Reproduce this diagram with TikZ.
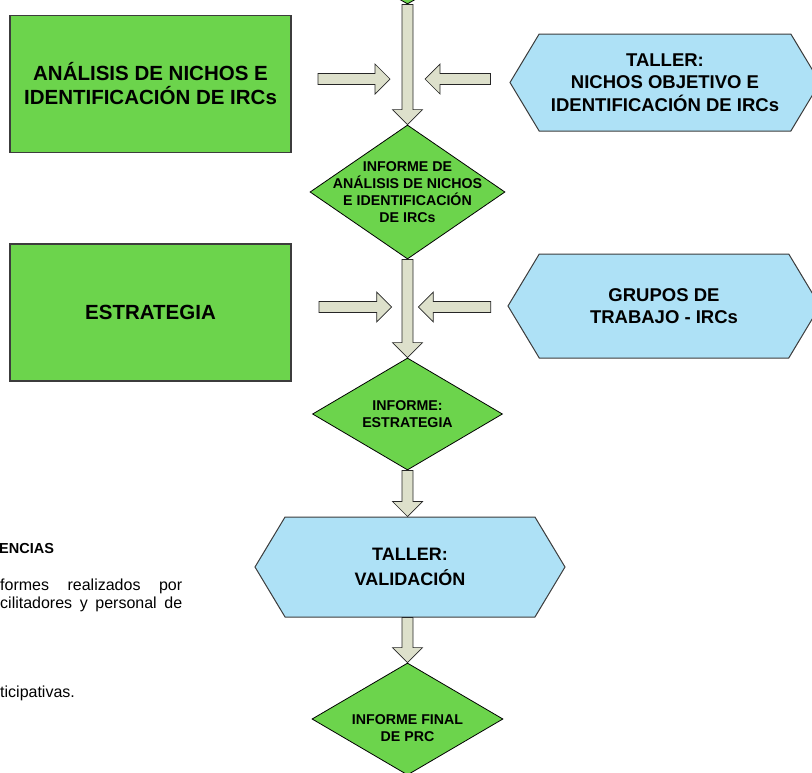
\documentclass[tikz,border=0pt]{standalone}
\usepackage{fontspec}
\setmainfont{Liberation Sans}
\usepackage{tikz}
\usetikzlibrary{calc, shapes.geometric, shapes.symbols}
\definecolor{boxgreen}{HTML}{6CD44C}
\definecolor{tallerblue}{HTML}{AEE1F6}
\definecolor{arrowfill}{HTML}{DDE0CB}
\definecolor{edgegray}{HTML}{3C3C3C}

\begin{document}
\begin{tikzpicture}[x=1pt, y=-1pt,
            actividad/.style={rectangle, draw=edgegray, line width=1.2pt, fill=boxgreen,
                minimum width=281pt, minimum height=137pt, align=center,
                font=\fontsize{20.5}{24}\selectfont\bfseries},
            informe/.style={diamond, draw=black, line width=0.8pt, fill=boxgreen,
                inner sep=-30pt, align=center, font=\fontsize{14.2}{16.8}\selectfont\bfseries},
            taller/.style={signal, signal to=west and east, signal pointer angle=118,
                draw=edgegray, line width=1pt, fill=tallerblue, minimum width=310pt,
                minimum height=100pt, inner sep=4pt, align=center,
                font=\fontsize{18.5}{22.5}\selectfont\bfseries},
            nota/.style={anchor=base west, inner sep=0pt, font=\fontsize{16}{18}\selectfont},
            flecha/.style={draw=black!85, line width=0.7pt, fill=arrowfill, line join=miter,
                to path={
                    ($(\tikztostart)!5.5pt!90:(\tikztotarget)$)
                    -- ($(\tikztotarget)!15pt!(\tikztostart)!5.5pt!-90:(\tikztostart)$)
                    -- ($(\tikztotarget)!15pt!(\tikztostart)!15pt!-90:(\tikztostart)$)
                    -- (\tikztotarget)
                    -- ($(\tikztotarget)!15pt!(\tikztostart)!15pt!90:(\tikztostart)$)
                    -- ($(\tikztotarget)!15pt!(\tikztostart)!5.5pt!90:(\tikztostart)$)
                    -- ($(\tikztostart)!5.5pt!-90:(\tikztotarget)$) -- cycle}}]
            \useasboundingbox (0,0) rectangle (812,772);
            \clip (0,0) rectangle (812,772);
            % main column
            \node[informe, minimum width=190pt, minimum height=108pt] (d0) at (407.5,-50) {};
            \node[informe, minimum width=195pt, minimum height=134pt] (d1) at (407.5,192)
                {INFORME DE\\ANÁLISIS DE NICHOS\\E IDENTIFICACIÓN\\DE IRCs};
            \node[informe, minimum width=190pt, minimum height=112pt] (d2) at (407.5,414)
                {INFORME:\\ESTRATEGIA};
            \node[taller, font=\fontsize{18}{24.5}\selectfont\bfseries] (hx3) at (410,567)
                {TALLER:\\VALIDACIÓN};
            \node[informe, minimum width=191pt, minimum height=112pt] (d3) at (407.5,719)
                {\vphantom{X}\\[1.2pt]INFORME FINAL\\DE PRC};
            % side boxes
            \node[actividad] (r1) at (150.5,84) {ANÁLISIS DE NICHOS E\\IDENTIFICACIÓN DE IRCs};
            \node[actividad] (r2) at (150.5,312.5) {ESTRATEGIA};
            \node[taller, minimum height=97pt] (hx1) at (665,82.5)
                {TALLER:\\NICHOS OBJETIVO E\\IDENTIFICACIÓN DE IRCs};
            \node[taller, minimum width=312pt, minimum height=104pt] (hx2) at (664,306)
                {GRUPOS DE\\TRABAJO - IRCs};
            % text cut at the left margin
            \node[nota, font=\fontsize{14.5}{17}\selectfont\bfseries] (ref0) at (-1,553) {ENCIAS};
            \node[nota] (ref1) at (0,590) {\makebox[182pt][s]{formes realizados por}};
            \node[nota] (ref2) at (0,608) {\makebox[182pt][s]{cilitadores y personal de}};
            \node[nota] (ref3) at (0,697) {ticipativas.};
            % arrows
            \coordinate (s1) at (318,79);
            \coordinate (t1) at (390,79);
            \coordinate (s2) at (490.5,79);
            \coordinate (t2) at (425,79);
            \coordinate (s3) at (319,307);
            \coordinate (t3) at (391.7,307);
            \coordinate (s4) at (490.7,307);
            \coordinate (t4) at (418.3,307);
            \coordinate (h3n) at (d2.south |- hx3.north);
            \coordinate (h3s) at (d3.north |- hx3.south);
            \foreach \a/\b in {d0.south/d1.north, d1.south/d2.north, d2.south/h3n, h3s/d3.north,
                               s1/t1, s2/t2, s3/t3, s4/t4} {
                \draw[flecha] (\a) to (\b);
            }
        \end{tikzpicture}
\end{document}
